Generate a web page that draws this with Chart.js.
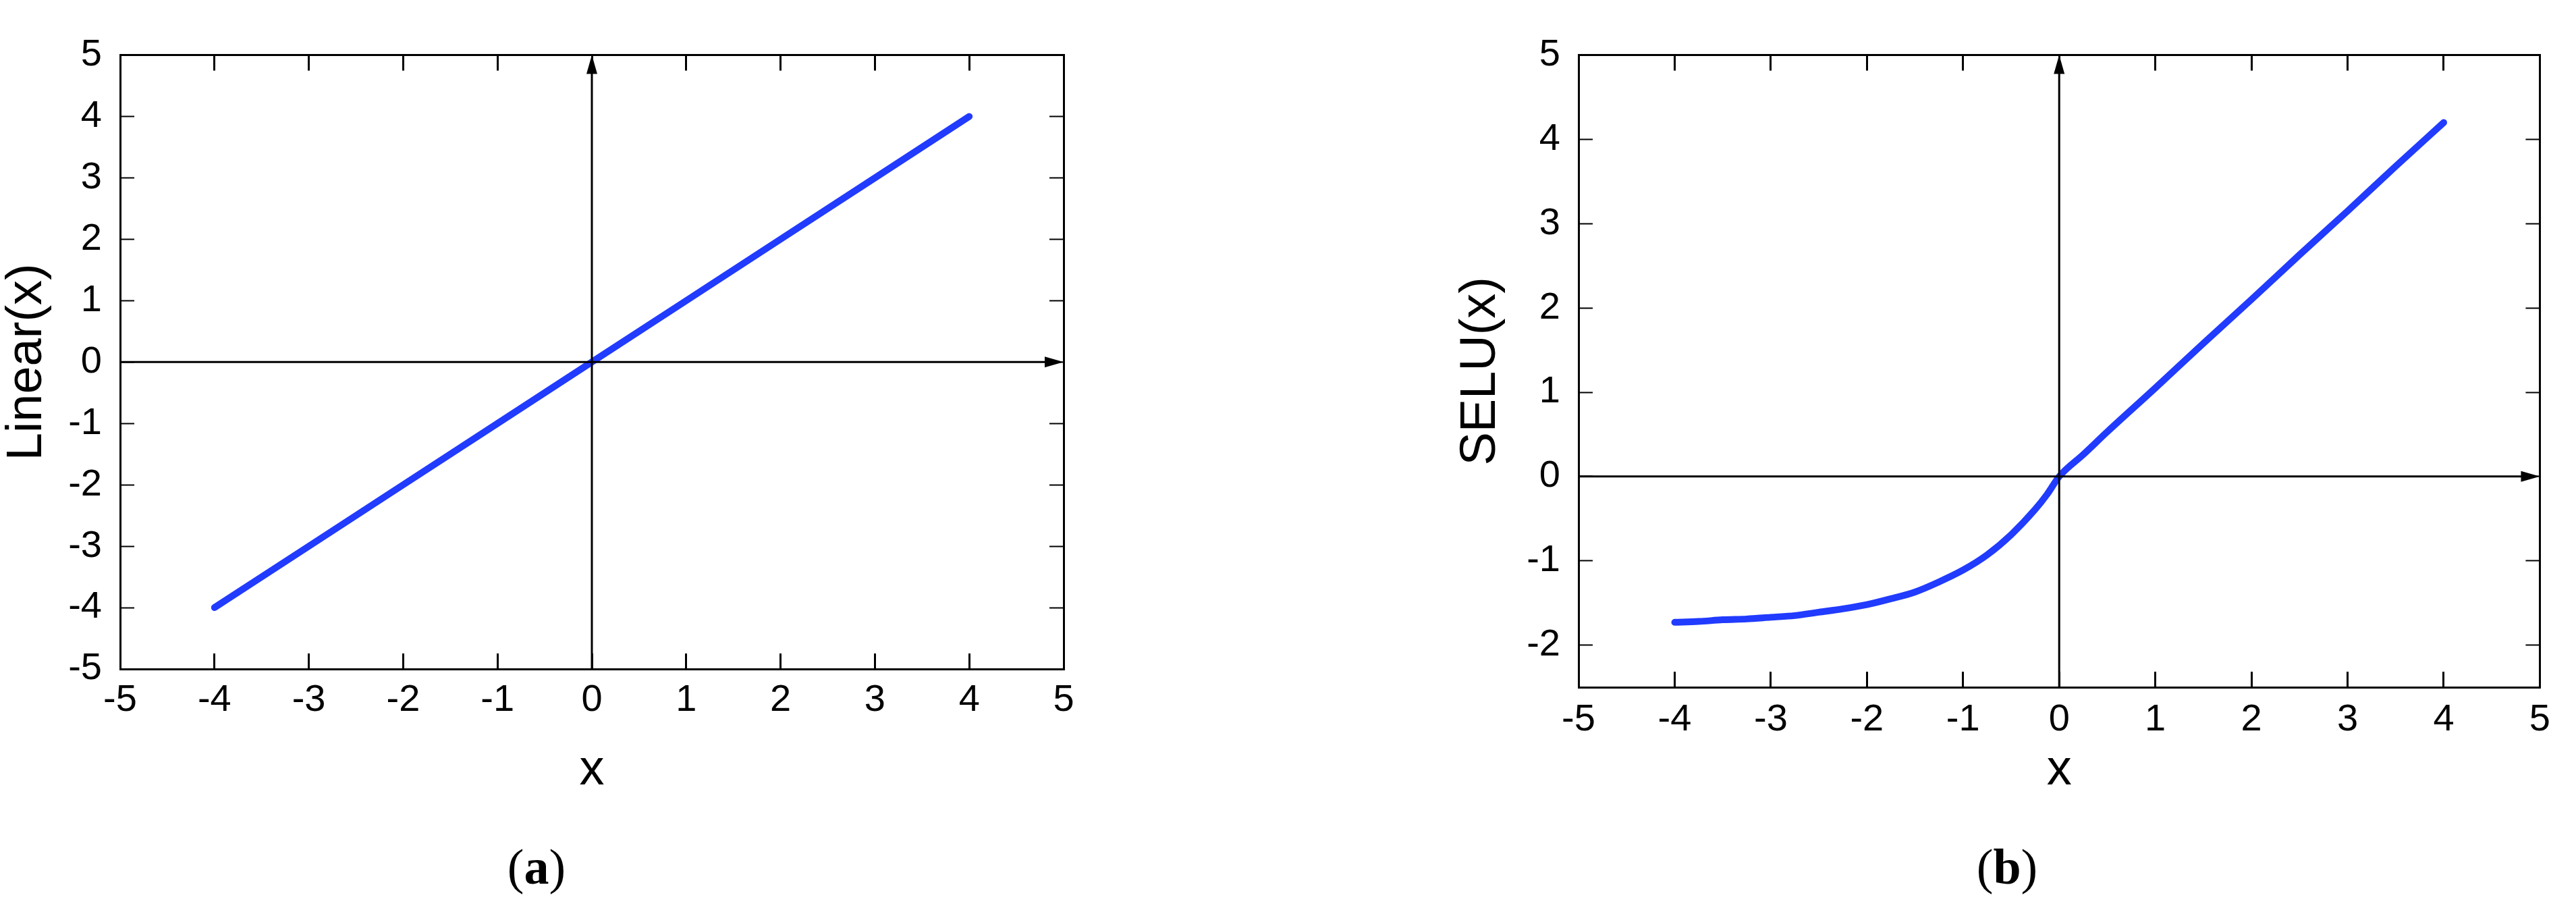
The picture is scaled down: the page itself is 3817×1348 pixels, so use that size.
<!DOCTYPE html>
<html>
<head>
<meta charset="utf-8">
<script src="https://cdn.jsdelivr.net/npm/chart.js@4.4.1/dist/chart.umd.min.js"></script>
<style>
  html, body { margin: 0; padding: 0; background: #fff; }
  body { width: 3817px; height: 1348px; position: relative; overflow: hidden; }
  .panel { position: absolute; top: 0; height: 1348px; }
  .cap { position: absolute; top: 1247px; width: 300px; text-align: center;
         font-family: "Liberation Serif", "Times New Roman", serif; font-size: 74px; line-height: 74px; color: #000; }
</style>
</head>
<body>
<div class="panel" style="left:0;width:1908px"><canvas id="linear"></canvas></div>
<div class="panel" style="left:1908px;width:1909px"><canvas id="selu"></canvas></div>
<div class="cap" style="left:645px">(<b>a</b>)</div>
<div class="cap" style="left:2824px">(<b>b</b>)</div>
<script>
// values
const linearX = [-4, -3, -2, -1, 0, 1, 2, 3, 4];
const linearY = [-4, -3, -2, -1, 0, 1, 2, 3, 4];
const seluX = [-4, -3.75, -3.5, -3.25, -3, -2.75, -2.5, -2.25, -2, -1.75, -1.5, -1.25, -1, -0.75, -0.5, -0.25, -0.125, 0,
               0.25, 0.5, 1, 1.5, 2, 2.5, 3, 3.5, 4];
const seluY = [-1.73, -1.72, -1.70, -1.69, -1.67, -1.65, -1.61, -1.57, -1.52, -1.45, -1.37, -1.25, -1.11, -0.93, -0.69, -0.39, -0.21, 0,
               0.26, 0.53, 1.05, 1.58, 2.10, 2.63, 3.15, 3.68, 4.20];
const xRange = [-5, 5];
const linearRange = [-5, 5];
const seluRange = [-2.5, 5];

const SANS = '"Liberation Sans", Arial, sans-serif';
const BLUE = '#213bff';
Chart.defaults.color = '#000';
Chart.defaults.font.family = SANS;

// black axes through the origin, with arrow heads at the top and right
const zeroAxes = {
    id: 'zeroAxes',
    afterDatasetsDraw(chart) {
        const ctx = chart.ctx, a = chart.chartArea;
        const x0 = chart.scales.x.getPixelForValue(0);
        const y0 = chart.scales.y.getPixelForValue(0);
        ctx.save();
        ctx.strokeStyle = '#000';
        ctx.fillStyle = '#000';
        ctx.lineWidth = 3;
        ctx.beginPath();
        ctx.moveTo(x0, a.bottom); ctx.lineTo(x0, a.top + 20);
        ctx.moveTo(a.left, y0); ctx.lineTo(a.right - 20, y0);
        ctx.stroke();
        ctx.beginPath();
        ctx.moveTo(x0, a.top); ctx.lineTo(x0 - 8, a.top + 28); ctx.lineTo(x0 + 8, a.top + 28); ctx.closePath();
        ctx.moveTo(a.right, y0); ctx.lineTo(a.right - 28, y0 - 8); ctx.lineTo(a.right - 28, y0 + 8); ctx.closePath();
        ctx.fill();
        ctx.restore();
    }
};

function frameAxis(position, min, max, size, tickLen, tickW) {
    return {
        type: 'linear', position: position, min: min, max: max,
        ticks: { display: false, stepSize: 1, includeBounds: false },
        grid: { drawOnChartArea: false, tickLength: tickLen, tickWidth: tickW, color: '#000' },
        border: { color: '#000', width: 3 },
        afterFit: s => { if (position === 'top') s.height = size; else s.width = size; }
    };
}

function graficar(id, xs, ys, yRange, yTitle, box, smooth) {
    const pts = xs.map((v, i) => ({ x: v, y: ys[i] }));
    return new Chart(document.getElementById(id), {
        type: 'line',
        data: {
            datasets: [{
                data: pts,
                borderColor: BLUE,
                borderWidth: 10,
                borderCapStyle: 'round',
                borderJoinStyle: 'round',
                pointRadius: 0,
                cubicInterpolationMode: smooth ? 'monotone' : 'default',
                tension: 0
            }]
        },
        options: {
            responsive: true,
            maintainAspectRatio: false,
            animation: false,
            layout: { padding: 0 },
            plugins: { legend: { display: false }, tooltip: { enabled: false } },
            scales: {
                x: {
                    type: 'linear', position: 'bottom', min: xRange[0], max: xRange[1],
                    ticks: { stepSize: 1, padding: box.xPad, font: { size: 56 }, color: '#000' },
                    grid: { drawOnChartArea: false, tickLength: -23, tickWidth: 3, color: '#000' },
                    border: { color: '#000', width: 3 },
                    title: { display: true, text: 'x', color: '#000',
                             font: { size: 74, lineHeight: 1.1 }, padding: { top: 0, bottom: 166 } },
                    afterFit: s => { s.height = box.bottom; }
                },
                y: {
                    type: 'linear', position: 'left', min: yRange[0], max: yRange[1],
                    ticks: { stepSize: 1, includeBounds: false, padding: 48, font: { size: 56 }, color: '#000' },
                    grid: { drawOnChartArea: false, tickLength: -21, tickWidth: 2, color: '#000' },
                    border: { color: '#000', width: 3 },
                    title: { display: true, text: yTitle, color: '#000',
                             font: { size: 74, lineHeight: 1.1 }, padding: { top: box.titlePad, bottom: 0 } },
                    afterFit: s => { s.width = box.left; }
                },
                x2: frameAxis('top', xRange[0], xRange[1], box.top, -23, 3),
                y2: frameAxis('right', yRange[0], yRange[1], box.right, -21, 2)
            }
        },
        plugins: [zeroAxes]
    });
}

graficar('linear', linearX, linearY, linearRange, 'Linear(x)',
         { left: 178, right: 332, top: 42, bottom: 357, xPad: 36, titlePad: 0 }, false);
graficar('selu', seluX, seluY, seluRange, 'SELU(x)',
         { left: 431, right: 40, top: 43, bottom: 330, xPad: 38, titlePad: 246 }, true);
</script>
</body>
</html>
